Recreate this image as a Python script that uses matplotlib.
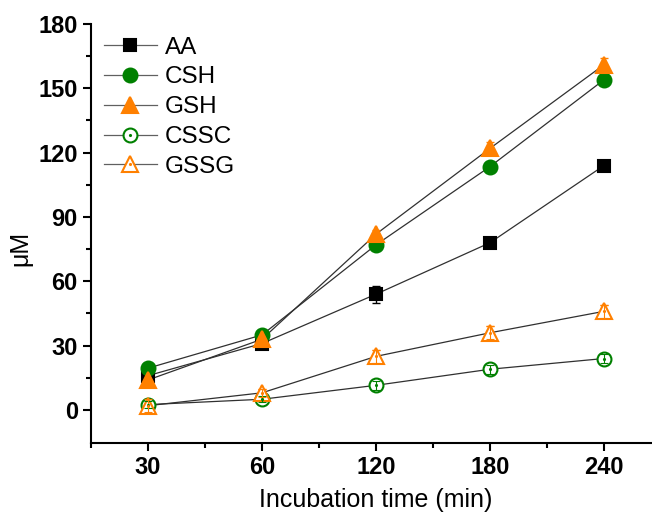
import matplotlib
matplotlib.use("Agg")
import matplotlib.pyplot as plt
import numpy as np
from matplotlib.legend_handler import HandlerTuple

plt.rcParams['font.family'] = ['Liberation Sans', 'DejaVu Sans']

times = ["30", "60", "120", "180", "240"]
aa = [16, 31, 54, 78, 114]
csh = [19.5, 35, 77, 113.5, 154]
gsh = [14, 33, 82, 122, 161]
cssc = [2.5, 5, 11.5, 19, 24]
gssg = [2, 8, 25, 36, 46]
aa_err = [1.5, 1.5, 4, 2.5, 1.5]
csh_err = [1, 1, 1.5, 1.5, 1.5]
gsh_err = [3, 2, 2, 3, 3]
cssc_err = [1.5, 1.5, 2, 2, 2]
gssg_err = [3, 2, 3, 3, 3]

green = '#008000'
orange = '#FF8000'

fig = plt.figure(figsize=(6.52, 5.12), dpi=100)
ax = fig.add_axes([91/652, 1-443/512, 570/652, (443-24)/512])

x = np.arange(len(times))

series = [
    ("AA", aa, aa_err, 's', 'black', 'black', 9),
    ("CSH", csh, csh_err, 'o', green, green, 10),
    ("GSH", gsh, gsh_err, '^', orange, orange, 12),
    ("CSSC", cssc, cssc_err, 'o', green, 'white', 10),
    ("GSSG", gssg, gssg_err, '^', orange, 'white', 12),
]

handles = []
for name, y, e, m, c, fc, ms in series:
    ax.plot(x, y, '-', color='#303030', lw=0.9, zorder=1)
    ax.errorbar(x, y, yerr=e, fmt='none', ecolor=c, elinewidth=1.0, capsize=3, capthick=1.0, zorder=2)
    ax.plot(x, y, linestyle='none', marker=m, markersize=ms, markerfacecolor=fc,
            markeredgecolor=c, markeredgewidth=1.5, zorder=3)
    if fc == 'white':
        ax.errorbar(x, y, yerr=e, fmt='none', ecolor=c, elinewidth=0.8, capsize=3, capthick=0.8, zorder=4)
        dot, = ax.plot(x, y, linestyle='none', marker='.', markersize=2.5, color=c, zorder=5)
        lh, = ax.plot([], [], '-', color='#606060', lw=0.9, marker=m, markersize=ms,
                      markerfacecolor='white', markeredgecolor=c, markeredgewidth=1.5)
        handles.append(((lh, dot), name))
    else:
        lh, = ax.plot([], [], '-', color='#606060', lw=0.9, marker=m, markersize=ms,
                      markerfacecolor=fc, markeredgecolor=c, markeredgewidth=1.5)
        handles.append((lh, name))

ax.legend([h for h, n in handles], [n for h, n in handles], loc='upper left',
          bbox_to_anchor=(-0.016, 1.022), frameon=False, fontsize=17.5,
          handlelength=2.2, handletextpad=0.3, labelspacing=0.32,
          handler_map={tuple: HandlerTuple(ndivide=1)})

ax.set_xlim(-0.5, 4.5)
ax.set_ylim(-15.4, 180)
ax.set_xticks(x)
ax.set_xticklabels(times)
ax.set_xticks(list(x + 0.5) + [-0.5], minor=True)
ax.set_yticks(np.arange(0, 181, 30))
ax.set_yticks(np.arange(15, 180, 30), minor=True)
ax.spines['top'].set_visible(False)
ax.spines['right'].set_visible(False)
for s in ['left', 'bottom']:
    ax.spines[s].set_linewidth(1.5)
ax.tick_params(axis='both', which='major', direction='out', length=6, width=1.5, labelsize=17)
ax.tick_params(axis='both', which='minor', direction='out', length=3.5, width=1.5)
for lab in ax.get_xticklabels() + ax.get_yticklabels():
    lab.set_fontweight('bold')

ax.set_xlabel("Incubation time (min)", fontsize=18, labelpad=6)
ax.set_ylabel("μM", fontsize=18)
ax.yaxis.set_label_coords(-0.102, 0.465)

fig.savefig("out.png", dpi=100)
